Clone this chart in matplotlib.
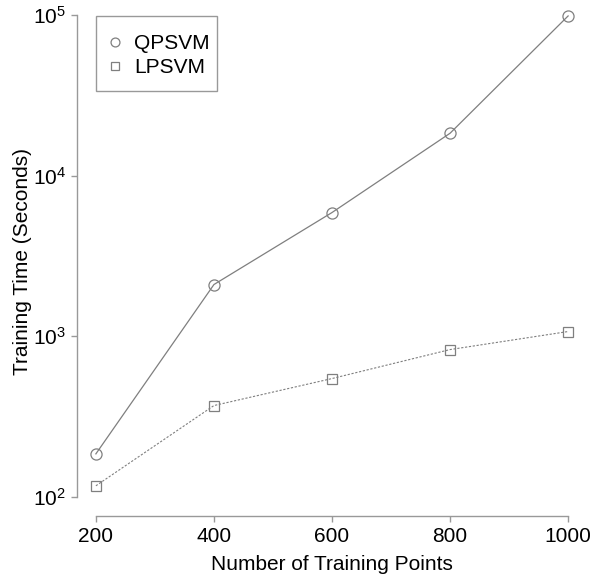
import matplotlib
matplotlib.use("Agg")
import matplotlib.pyplot as plt
from matplotlib.patches import Rectangle

plt.rcParams['font.family'] = ['Liberation Sans', 'DejaVu Sans']
plt.rcParams['mathtext.fontset'] = 'custom'
plt.rcParams['mathtext.rm'] = 'Liberation Sans'
plt.rcParams['mathtext.it'] = 'Liberation Sans'
plt.rcParams['mathtext.default'] = 'regular'

n_points = [200, 400, 600, 800, 1000]
qpsvm = [185, 2100, 5900, 18400, 99000]
lpsvm = [117, 370, 545, 826, 1070]
xticks = [200, 400, 600, 800, 1000]
yticks = [1e2, 1e3, 1e4, 1e5]
ytick_labels = ['$10^2$', '$10^3$', '$10^4$', '$10^5$']

W, H = 592, 578
fig = plt.figure(figsize=(W / 100, H / 100), dpi=100)
left, right, bottom, top = 77, 587, 516, -4
ax = fig.add_axes([left / W, (H - bottom) / H, (right - left) / W, (bottom - top) / H])

def ax_x(px):
    return (px - left) / (right - left)

def ax_y(py):
    return (bottom - py) / (bottom - top)

gray = '#7f7f7f'
ax.plot(n_points, qpsvm, color=gray, lw=0.9, ls='-', marker='o', ms=8,
        mfc='none', mec=gray, mew=0.9, label='QPSVM')
ax.plot(n_points, lpsvm, color=gray, lw=0.8, ls=(0, (2, 1.5)), marker='s', ms=7,
        mfc='none', mec=gray, mew=0.9, label='LPSVM')

ax.set_yscale('log')
ax.set_xlim(168, 1032)
ax.set_ylim(10 ** 1.88, 10 ** 5.12)
ax.set_xticks(xticks)
ax.set_xticklabels([str(v) for v in xticks])
ax.set_yticks(yticks)
ax.set_yticklabels(ytick_labels)
ax.yaxis.set_minor_locator(matplotlib.ticker.NullLocator())

for s in ['top', 'right']:
    ax.spines[s].set_visible(False)
ax.spines['left'].set_bounds(1e2, 1e5)
ax.spines['bottom'].set_bounds(200, 1000)
for s in ['left', 'bottom']:
    ax.spines[s].set_color('#999999')
    ax.spines[s].set_linewidth(1.0)
ax.tick_params(axis='both', direction='out', length=4, width=1.0, color='#999999',
               labelsize=15, labelcolor='black', pad=4)

ax.set_xlabel('Number of Training Points', fontsize=15)
ax.xaxis.label.set_va('center')
ax.xaxis.set_label_coords(0.5, ax_y(564))
ax.set_ylabel('Training Time (Seconds)', fontsize=15)
ax.yaxis.label.set_va('center')
ax.yaxis.set_label_coords(ax_x(23), ax_y(262))

# legend frame
ax.add_patch(Rectangle((ax_x(96), ax_y(91)), ax_x(217) - ax_x(96), ax_y(16) - ax_y(91),
                       transform=ax.transAxes, fill=False, edgecolor='#999999',
                       linewidth=1.0, clip_on=False, zorder=5))
leg = ax.legend(loc='upper left', bbox_to_anchor=(ax_x(115), ax_y(34)),
                fontsize=15, frameon=False,
                handlelength=0, handletextpad=0.9, borderpad=0, labelspacing=0.25,
                markerscale=0.8, borderaxespad=0)

fig.savefig('out.png', dpi=100)
